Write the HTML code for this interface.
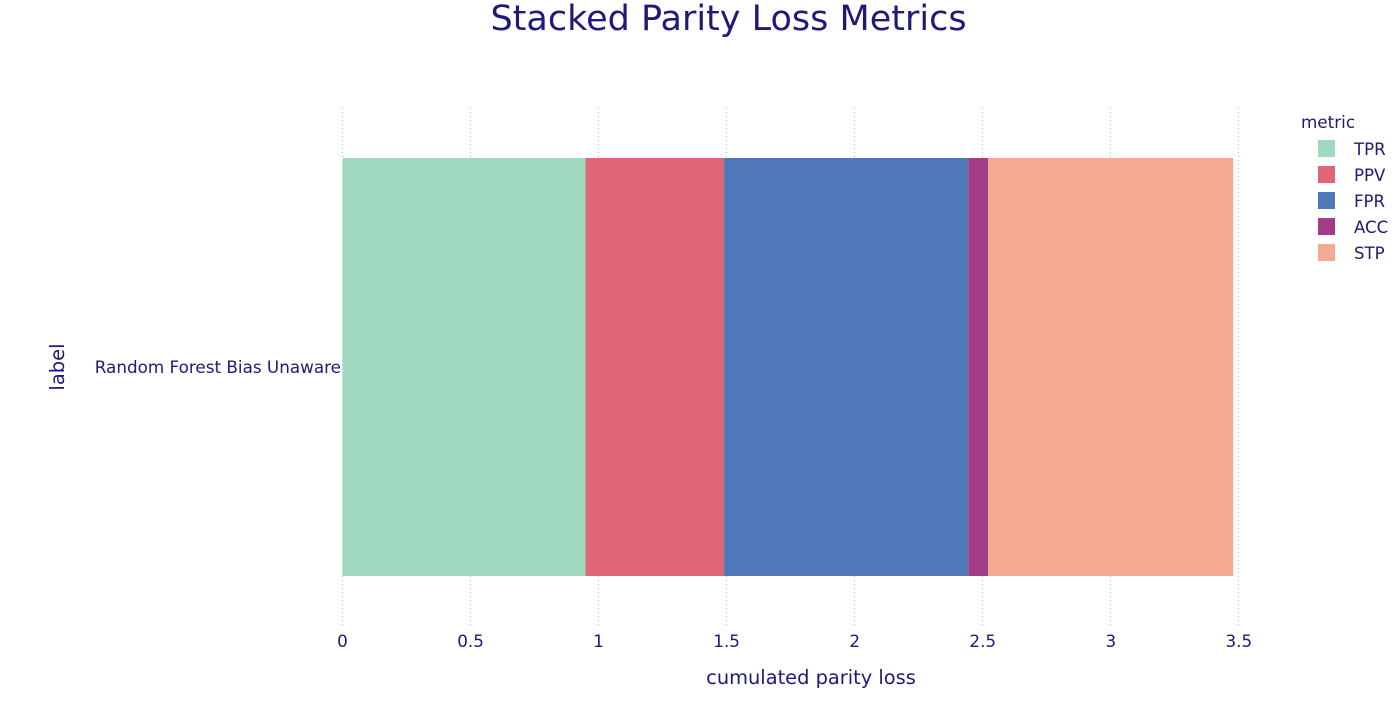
<!DOCTYPE html>
<html>
<head>
<meta charset="utf-8">
<style>
html,body{margin:0;padding:0;background:#fff;width:1400px;height:717px;overflow:hidden}
svg{display:block}
text{font-family:"DejaVu Sans","Liberation Sans",sans-serif;fill:#1f1a78}
</style>
</head>
<body>
<svg id="chart" width="1400" height="717" viewBox="0 0 1400 717" xmlns="http://www.w3.org/2000/svg">
  <text x="728.5" y="30" text-anchor="middle" font-size="35">Stacked Parity Loss Metrics</text>
  <g id="grid"></g>
  <g id="bars"></g>
  <g id="ticks"></g>
  <text x="341" y="373" text-anchor="end" font-size="16.8">Random Forest Bias Unaware</text>
  <text transform="translate(64,367) rotate(-90)" text-anchor="middle" font-size="19.5">label</text>
  <text x="811" y="684" text-anchor="middle" font-size="19.4">cumulated parity loss</text>
  <g id="legend">
    <text x="1301" y="128" font-size="16.8">metric</text>
  </g>
</svg>
<script>
const metrics = ['TPR', 'PPV', 'FPR', 'ACC', 'STP'];
const values = [0.949, 0.541, 0.953, 0.078, 0.957];
const tickValues = [0, 0.5, 1, 1.5, 2, 2.5, 3, 3.5];
const tickLabels = ['0', '0.5', '1', '1.5', '2', '2.5', '3', '3.5'];
const colors = ['#9fdac0', '#e06575', '#5078b8', '#a23c86', '#f4a992'];

const NS = 'http://www.w3.org/2000/svg';
const xScale = v => 342.5 + v * 256.1;
const barTop = 158, barBottom = 576;

const grid = document.getElementById('grid');
const ticks = document.getElementById('ticks');
tickValues.forEach((v, i) => {
  const px = Math.floor(xScale(v)) + 0.5;
  const line = document.createElementNS(NS, 'line');
  
  
  line.setAttribute('x1', px);
  line.setAttribute('x2', px);
  line.setAttribute('y1', 108);
  line.setAttribute('y2', 628);
  line.setAttribute('stroke', '#8fd3b8');
  line.setAttribute('stroke-width', 1);
  line.setAttribute('stroke-dasharray', '1 3');
  grid.appendChild(line);

  const t = document.createElementNS(NS, 'text');
  
  
  t.setAttribute('x', xScale(v));
  t.setAttribute('y', 647);
  t.setAttribute('text-anchor', 'middle');
  t.setAttribute('font-size', 16.8);
  t.textContent = tickLabels[i];
  ticks.appendChild(t);
});

const bars = document.getElementById('bars');
const legend = document.getElementById('legend');
let cumulative = 0;
metrics.forEach((m, i) => {
  const x0 = xScale(cumulative);
  cumulative += values[i];
  const x1 = xScale(cumulative);
  const r = document.createElementNS(NS, 'rect');
  
  
  r.setAttribute('x', x0);
  r.setAttribute('y', barTop);
  r.setAttribute('width', x1 - x0);
  r.setAttribute('height', barBottom - barTop);
  r.setAttribute('fill', colors[i]);
  bars.appendChild(r);

  const rowY = 149 + i * 26;
  const swatch = document.createElementNS(NS, 'rect');
  
  
  swatch.setAttribute('x', 1318);
  swatch.setAttribute('y', rowY - 9);
  swatch.setAttribute('width', 17);
  swatch.setAttribute('height', 17);
  swatch.setAttribute('fill', colors[i]);
  legend.appendChild(swatch);

  const label = document.createElementNS(NS, 'text');
  
  
  label.setAttribute('x', 1354);
  label.setAttribute('y', rowY + 6);
  label.setAttribute('font-size', 16.6);
  label.textContent = m;
  legend.appendChild(label);
});
</script>
</body>
</html>
